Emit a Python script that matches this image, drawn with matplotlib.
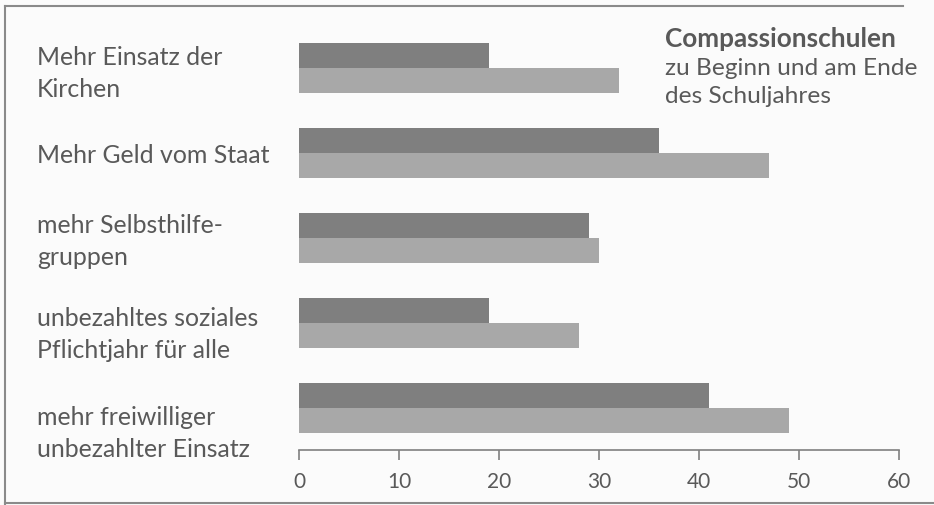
import matplotlib
matplotlib.use("Agg")
import matplotlib.pyplot as plt
from matplotlib.transforms import blended_transform_factory
from matplotlib.lines import Line2D

categories = [
    "Mehr Einsatz der\nKirchen",
    "Mehr Geld vom Staat",
    "mehr Selbsthilfe-\ngruppen",
    "unbezahltes soziales\nPflichtjahr für alle",
    "mehr freiwilliger\nunbezahlter Einsatz",
]
beginn = [19, 36, 29, 19, 41]
ende = [32, 47, 30, 28, 49]
xticks = [0, 10, 20, 30, 40, 50, 60]
title_lines = ["Compassionschulen", "zu Beginn und am Ende", "des Schuljahres"]

W, H = 934, 505
fig = plt.figure(figsize=(W / 100, H / 100), dpi=100)
fig.patch.set_facecolor("#fbfbfb")

FONT = "Lato"
TXT = "#595959"

ax = fig.add_axes([299 / W, 1 - 450 / H, 600 / W, 420 / H])
ax.set_facecolor("none")
ypos = list(range(len(categories)))
bh = 0.294
ax.barh([y - bh / 2 for y in ypos], beginn, height=bh, color="#7f7f7f", linewidth=0)
ax.barh([y + bh / 2 for y in ypos], ende, height=bh, color="#a8a8a8", linewidth=0)
ax.set_xlim(0, 60)
ax.set_ylim(4.494, -0.447)
ax.set_xticks(xticks)
ax.set_xticklabels([str(t) for t in xticks], fontsize=15, color=TXT, family=FONT)
ax.tick_params(axis="x", length=7, width=1.2, color="#808080", pad=9)
ax.set_yticks([])
for s in ["left", "top", "right"]:
    ax.spines[s].set_visible(False)
ax.spines["bottom"].set_color("#808080")
ax.spines["bottom"].set_linewidth(1.2)

# category labels: baseline of the first line relative to the row centre (px)
first_offsets = [-3, 10, -5, 3, 17]
line_gap = 32
for y, lab, off in zip(ypos, categories, first_offsets):
    y_px = ax.transData.transform((0, y))[1]  # display coords (from bottom)
    for k, line in enumerate(lab.split("\n")):
        yy = (y_px - off - k * line_gap) / H
        fig.text(37 / W, yy, line, ha="left", va="baseline",
                 fontsize=17.9, color=TXT, family=FONT)

title_base = [47, 75, 103]
for k, (line, b) in enumerate(zip(title_lines, title_base)):
    fig.text(665 / W, 1 - b / H, line, fontsize=18.8 if k == 0 else 17.6,
             fontweight="bold" if k == 0 else "normal",
             color=TXT, family=FONT, ha="left", va="baseline")

# frame
fc = "#8a8a8a"
fig.add_artist(Line2D([5 / W, 5 / W], [1 - 6 / H, 0], transform=fig.transFigure, color=fc, lw=1.5))
fig.add_artist(Line2D([5 / W, 903 / W], [1 - 6 / H, 1 - 6 / H], transform=fig.transFigure, color=fc, lw=1.5))
fig.add_artist(Line2D([5 / W, 1], [1 - 503 / H, 1 - 503 / H], transform=fig.transFigure, color=fc, lw=1.5))

fig.savefig("out.png", dpi=100, facecolor=fig.get_facecolor())
